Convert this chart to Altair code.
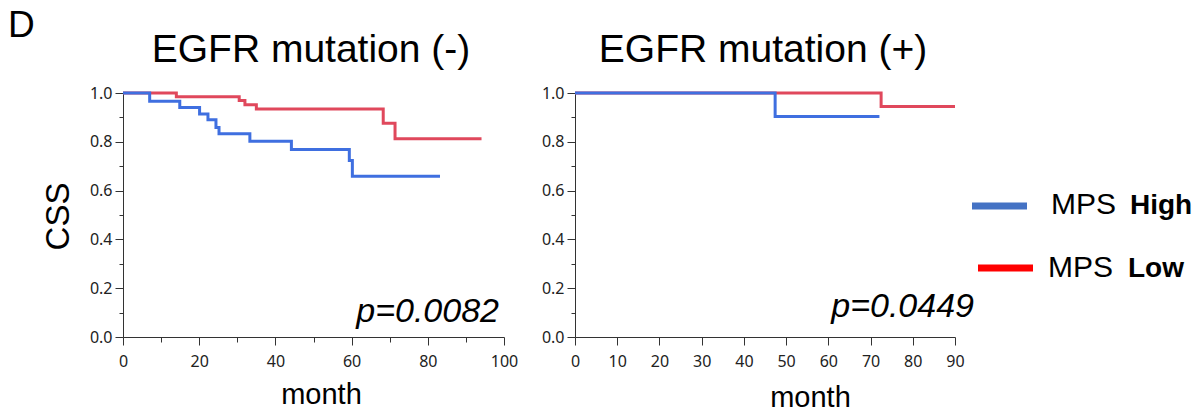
import altair as alt
import pandas as pd

# ---- data (Kaplan-Meier step curves) ----
left_high_t = [0, 7.0, 14.9, 20.1, 22.3, 24.4, 25.2, 33.3, 44.2, 59.4, 60.2, 83.2]
left_high_s = [1.0, 0.966, 0.941, 0.914, 0.890, 0.859, 0.833, 0.802, 0.768, 0.723, 0.659, 0.659]
left_low_t = [0, 14.0, 30.5, 32.0, 35.0, 68.3, 71.4, 94.1]
left_low_s = [1.0, 0.985, 0.969, 0.952, 0.934, 0.876, 0.812, 0.812]

right_high_t = [0, 47.4, 72.1]
right_high_s = [1.0, 0.904, 0.904]
right_low_t = [0, 72.5, 90.0]
right_low_s = [1.0, 0.945, 0.945]

panel_titles = ["EGFR mutation (-)", "EGFR mutation (+)"]
p_values = ["p=0.0082", "p=0.0449"]
y_ticks = [round(i / 10, 1) for i in range(11)]
left_x_ticks = list(range(0, 101, 10))
right_x_ticks = list(range(0, 91, 10))

BLUE = "#3f6fe0"
RED = "#e0485c"
LEG_BLUE = "#4472c4"
LEG_RED = "#ff0000"
TXT_FONT = "Liberation Sans"
TICK_FONT = "Noto Sans"

W_L, W_R, H = 381, 380, 244


def df(t, s):
    return pd.DataFrame({"month": t, "css": s})


one = pd.DataFrame({"k": [0]})


def y_axis(show_title):
    kw = dict(
        values=y_ticks,
        labelExpr="round(datum.value*10) % 2 == 0 ? format(datum.value, '.1f') : ''",
        tickSize={"condition": {"test": "round(datum.value*10) % 2 == 1", "value": 4}, "value": 8},
        labelFont=TICK_FONT, labelFontSize=16, labelColor="#222",
        labelPadding=3, labelFlush=False, labelOverlap=False,
        grid=False, domainColor="#333", tickColor="#333",
    )
    if show_title:
        kw.update(title="CSS", titleFont=TXT_FONT, titleFontSize=33, titleFontWeight="normal",
                  titleColor="black", titleX=-55, titleY=123, titleAngle=270,
                  titleBaseline="alphabetic", titleAlign="center")
    else:
        kw.update(title=None)
    return alt.Axis(**kw)


def x_axis(values, minor_odd, title_x, title_y):
    if minor_odd:
        lab = "round(datum.value/10) % 2 == 0 ? format(datum.value, 'd') : ''"
        tsize = {"condition": {"test": "round(datum.value/10) % 2 == 1", "value": 5}, "value": 8}
    else:
        lab = "format(datum.value, 'd')"
        tsize = 8
    return alt.Axis(
        values=values, labelExpr=lab, tickSize=tsize,
        labelFont=TICK_FONT, labelFontSize=16, labelColor="#222",
        labelPadding=8, labelFlush=False, labelOverlap=False,
        grid=False, domainColor="#333", tickColor="#333",
        title="month", titleFont=TXT_FONT, titleFontSize=29, titleFontWeight="normal",
        titleColor="black", titleX=title_x, titleY=title_y,
        titleBaseline="alphabetic", titleAlign="center",
    )


def curve(data, color, xdom, xax, yax):
    return alt.Chart(data).mark_line(interpolate="step-after", strokeWidth=3, color=color).encode(
        x=alt.X("month:Q", scale=alt.Scale(domain=xdom, nice=False), axis=xax),
        y=alt.Y("css:Q", scale=alt.Scale(domain=[0, 1], nice=False), axis=yax),
    )


def label(txt, x, y, size, align="left", weight="normal", style="normal"):
    return alt.Chart(one).mark_text(
        text=txt, font=TXT_FONT, fontSize=size, fontStyle=style, fontWeight=weight,
        align=align, baseline="alphabetic", color="black"
    ).encode(x=alt.value(x), y=alt.value(y))


# ---- left panel ----
lx = x_axis(left_x_ticks, True, 198, 66)
left = alt.layer(
    curve(df(left_low_t, left_low_s), RED, [0, 100], lx, y_axis(True)),
    curve(df(left_high_t, left_high_s), BLUE, [0, 100], lx, y_axis(True)),
    label(p_values[0], 376, 229, 34, align="right", style="italic"),
    label(panel_titles[0], 188, -31, 39, align="center"),
    label("D", -115, -56, 37),
).properties(width=W_L, height=H)

# ---- right panel ----
rx = x_axis(right_x_ticks, False, 235, 69)
legend_rules = [
    alt.Chart(one).mark_rule(strokeWidth=7, color=LEG_BLUE)
    .encode(x=alt.value(397), x2=alt.value(452), y=alt.value(113)),
    alt.Chart(one).mark_rule(strokeWidth=7, color=LEG_RED)
    .encode(x=alt.value(403), x2=alt.value(458), y=alt.value(175)),
]
legend_texts = [
    label("MPS", 476, 121, 30),
    label("High", 555, 121, 28, weight="bold"),
    label("MPS", 473, 184, 30),
    label("Low", 553, 184, 28, weight="bold"),
]

right = alt.layer(
    curve(df(right_low_t, right_low_s), RED, [0, 90], rx, y_axis(False)),
    curve(df(right_high_t, right_high_s), BLUE, [0, 90], rx, y_axis(False)),
    label(p_values[1], 399, 224, 34, align="right", style="italic"),
    label(panel_titles[1], 188, -31, 39, align="center"),
    *legend_rules, *legend_texts,
).properties(width=W_R, height=H)

chart = alt.hconcat(left, right, spacing=71, bounds="flush").properties(
    padding={"left": 8, "top": 7, "right": 0, "bottom": 0}
).configure_view(stroke=None)

chart.save("out.html", embed_options={"renderer": "svg", "actions": False})
